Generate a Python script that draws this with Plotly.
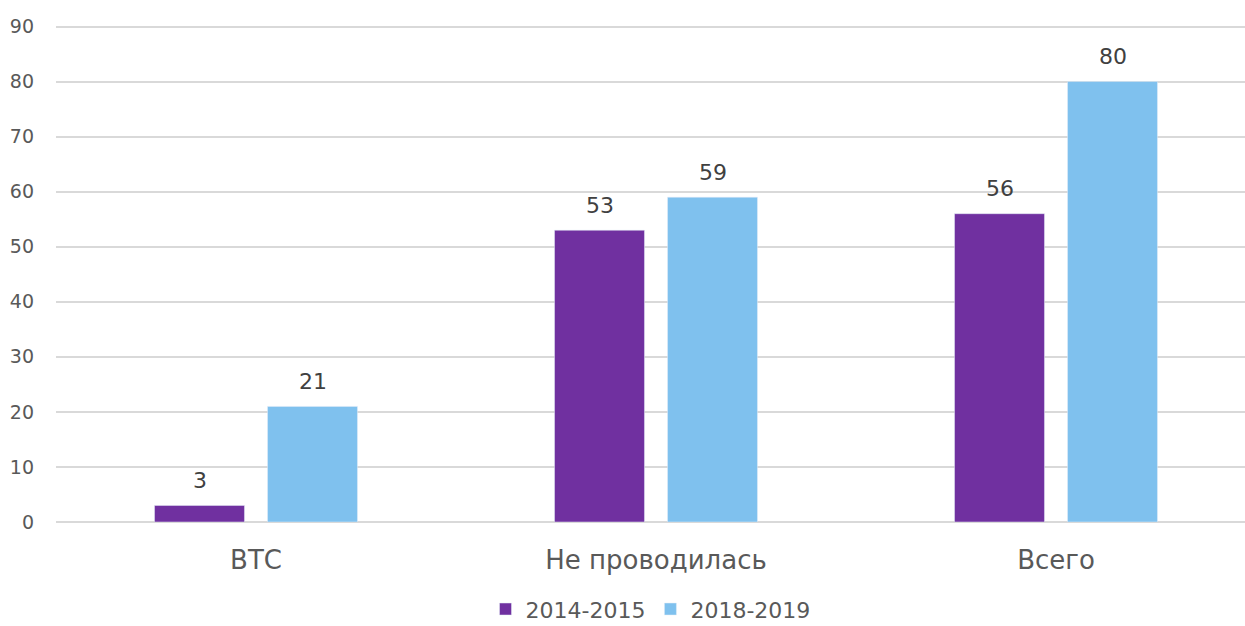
import plotly.graph_objects as go

categories = ["ВТС", "Не проводилась", "Всего"]
series_names = ["2014-2015", "2018-2019"]
values_2014 = [3, 53, 56]
values_2018 = [21, 59, 80]
colors = ["#7030A0", "#7FC1EE"]

FONT = "DejaVu Sans"

fig = go.Figure()
for name, vals, col in zip(series_names, [values_2014, values_2018], colors):
    fig.add_trace(go.Bar(x=categories, y=vals, name=name, marker_color=col))

# data labels above bars
for vals, shift in zip([values_2014, values_2018], [-56.5, 56.5]):
    for cat, v in zip(categories, vals):
        fig.add_annotation(x=cat, y=v, text=str(v), showarrow=False,
                           xshift=shift, yshift=25, yanchor="middle",
                           font=dict(size=22, color="#404040", family=FONT))

fig.update_layout(
    width=1245, height=626,
    margin=dict(l=56, r=0, t=21, b=104, autoexpand=False),
    paper_bgcolor="white", plot_bgcolor="white",
    barmode="group", bargap=0.435, bargroupgap=0.204,
    font=dict(family=FONT, color="#595959"),
    legend=dict(orientation="h", x=0.5, xanchor="center", y=-0.216, yanchor="bottom",
                font=dict(size=22, color="#595959"), itemwidth=30, traceorder="normal"),
    xaxis=dict(range=[-0.5, 2.4725], tickfont=dict(size=26, color="#595959"),
               ticklabelstandoff=20, showgrid=False, zeroline=False, showline=False,
               automargin=False),
    yaxis=dict(range=[0, 91], tickvals=[0, 10, 20, 30, 40, 50, 60, 70, 80, 90],
               tickfont=dict(size=19, color="#595959"),
               gridcolor="#D9D9D9", gridwidth=1.5, zeroline=True, zerolinecolor="#D9D9D9",
               zerolinewidth=1.5, ticklabelstandoff=21, showline=False, automargin=False),
)

fig.write_html("out.html", config={"displayModeBar": False},
               post_script="document.body.style.margin='0';document.body.style.overflow='hidden';")
